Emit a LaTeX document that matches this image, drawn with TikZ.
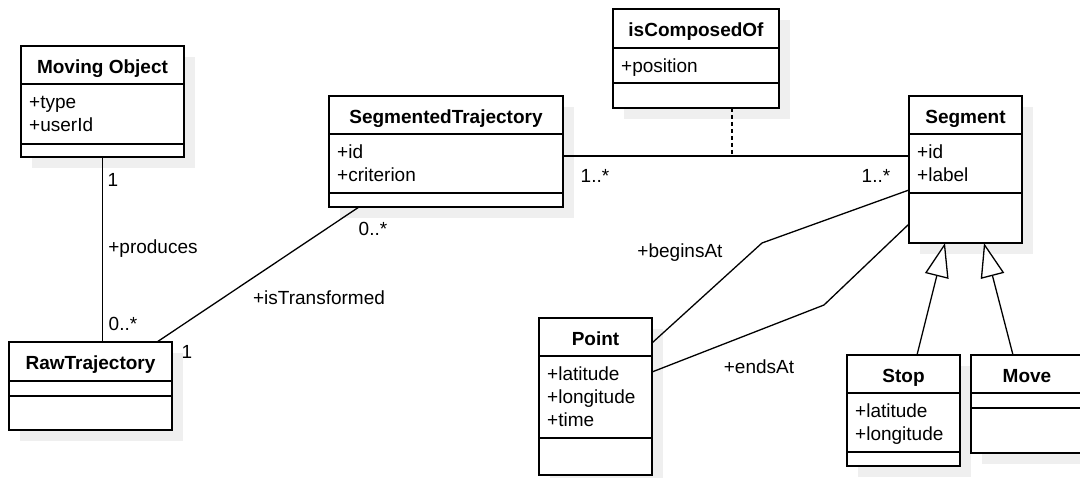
\documentclass[tikz,border=0pt]{standalone}
\usepackage{fontspec}
\setmainfont{Liberation Sans}
\usetikzlibrary{arrows.meta,shadows}
\definecolor{shadowgrey}{HTML}{EFEFEF}
\providecommand{\umlfont}{\fontsize{19}{23}\selectfont}
% name, x, y, width, head, attributes, operations, title, attribute lines
\newcommand{\umlclass}[9]{%
  \node[classbox, minimum width=#4pt, minimum height=#5pt+#6pt+#7pt] (#1) at (#2,#3) {};
  \node[classtitle] (#1-title) at ([yshift=-27.5pt]#1.north) {#8};
  \draw[classline] ([yshift=-#5pt]#1.north west) -- ([yshift=-#5pt]#1.north east);
  \draw[classline] ([yshift=-#5pt-#6pt]#1.north west) -- ([yshift=-#5pt-#6pt]#1.north east);
  \node[classattr] (#1-attr) at ([xshift=8pt, yshift=-#5pt-8.4pt]#1.north west) {\strut#9};
}

\begin{document}
\begin{tikzpicture}[x=1pt,y=-1pt,
    every node/.style={font=\umlfont},
    classbox/.style={draw, fill=white, line width=1.3pt, anchor=north west, outer sep=0pt, inner sep=0pt,
      general shadow={fill=shadowgrey, shadow xshift=11pt, shadow yshift=-11pt}},
    classtitle/.style={font=\umlfont\bfseries, anchor=base, inner sep=0pt},
    classattr/.style={align=left, anchor=north west, inner sep=0pt},
    classline/.style={line width=1.3pt},
    assoc/.style={line width=1.3pt},
    lbl/.style={inner sep=0pt}]
  \useasboundingbox (0,0) rectangle (1080,478);

  \umlclass{mo}{21}{46}{163}{38}{60}{13}{Moving Object}{+type\\+userId}
  \umlclass{rt}{9}{342}{163}{39}{15}{34}{RawTrajectory}{}
  \umlclass{st}{329}{96}{234}{38}{59}{14}{SegmentedTrajectory}{+id\\+criterion}
  \umlclass{ico}{613}{9}{166}{39}{35}{25}{isComposedOf}{+position}
  \umlclass{seg}{909}{96}{113}{38}{59}{50}{Segment}{+id\\+label}
  \umlclass{pt}{539}{318}{113}{38}{82}{37}{Point}{+latitude\\+longitude\\+time}
  \umlclass{stop}{847}{355}{113}{38}{59}{14}{Stop}{+latitude\\+longitude}
  \umlclass{move}{971}{355}{112}{38}{15}{45}{Move}{}

  \coordinate (assoc) at (732,156);
  \coordinate (bend-b) at (762,243);
  \coordinate (bend-e) at (824,305);

  % associations
  \draw[assoc] (mo.south) -- (mo.south |- rt.north);
  \draw[assoc] ([xshift=-15pt]rt.north east) -- ([xshift=30pt]st.south west);
  \draw[assoc] (st.east |- assoc) -- (seg.west |- assoc);
  \draw[assoc, dash pattern=on 4pt off 3pt] (ico.south -| assoc) -- (assoc);
  \draw[assoc] (seg.west |- 0,190) -- (bend-b) -- (pt.east |- 0,343);
  \draw[assoc] (seg.west |- 0,224) -- (bend-e) -- (pt.east |- 0,372);

  % generalisation
  \draw[assoc, -{Triangle[open, fill=white, length=34pt, width=24pt]}] ([xshift=13.5pt]stop.north) -- ([xshift=-20.5pt]seg.south);
  \draw[assoc, -{Triangle[open, fill=white, length=34pt, width=24pt]}] ([xshift=-14pt]move.north) -- ([xshift=18.5pt]seg.south);

  % roles and multiplicities
  \node[lbl] (m-mo) at (113,180) {1};
  \node[lbl] (r-prod) at (153,249) {+produces};
  \node[lbl] (m-rt) at (123,324) {0..*};
  \node[lbl] (m-rt-st) at (187,352) {1};
  \node[lbl] (m-st) at (373,229) {0..*};
  \node[lbl] (r-trans) at (319,298) {+isTransformed};
  \node[lbl] (m-st-seg) at (595,176) {1..*};
  \node[lbl] (m-seg) at (876,176) {1..*};
  \node[lbl] (r-begins) at (680,253) {+beginsAt};
  \node[lbl] (r-ends) at (759,367) {+endsAt};
\end{tikzpicture}
\end{document}
